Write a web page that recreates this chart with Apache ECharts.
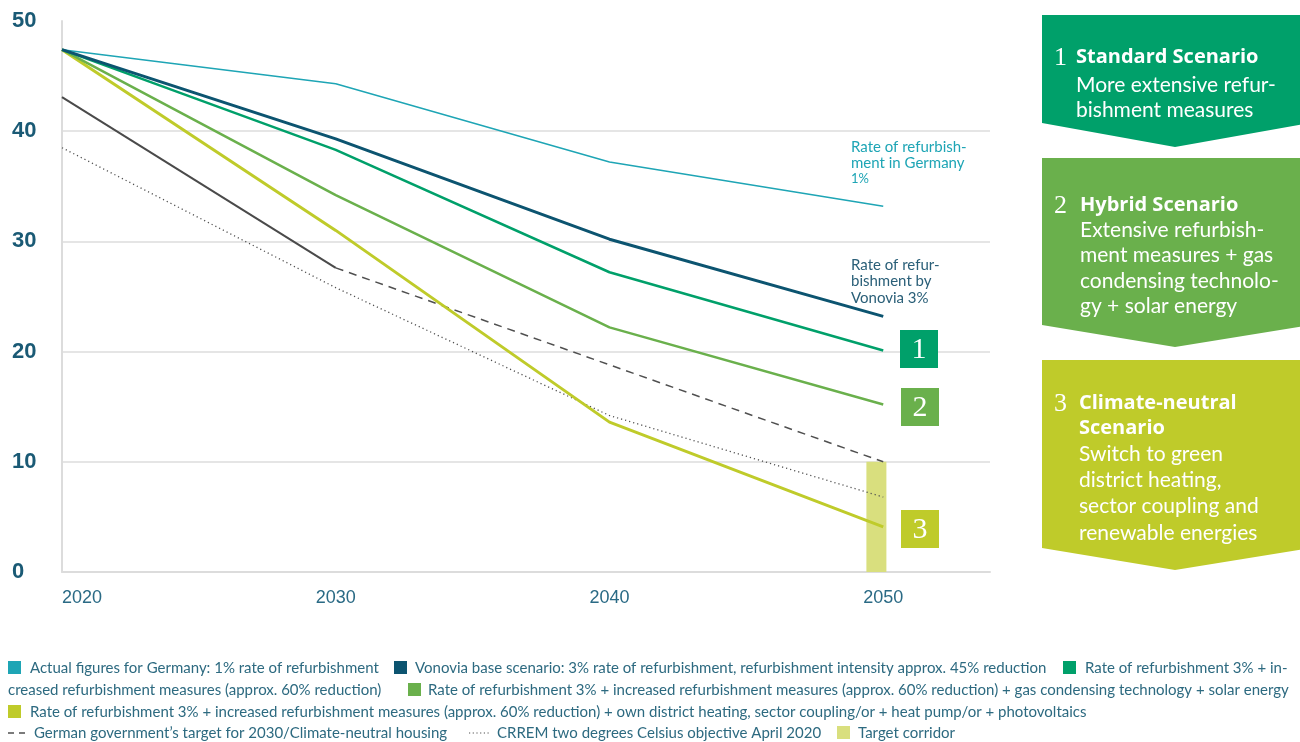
<!DOCTYPE html>
<html><head><meta charset="utf-8">
<script src="https://cdn.jsdelivr.net/npm/echarts/dist/echarts.min.js"></script>
<style>html,body{margin:0;padding:0;background:#fff}#c{width:1300px;height:742px}</style>
</head><body><div id="c"></div>
<script>
// ---- data ----
const years = [2020, 2030, 2040, 2050];
const germany1 = [47.4, 44.3, 37.2, 33.2];
const vonoviaBase = [47.4, 39.3, 30.2, 23.2];
const standard = [47.4, 38.3, 27.2, 20.1];
const hybrid = [47.4, 34.2, 22.2, 15.2];
const climateNeutral = [47.4, 31.0, 13.6, 4.1];
const govYearsSolid = [2020, 2030];
const govSolid = [43.1, 27.6];
const govYearsDashed = [2030, 2050];
const govDashed = [27.6, 10.0];
const crrem = [38.5, 25.8, 14.2, 6.8];
const corridorYears = [2049.75];
const corridorTop = [10];
const xTickLabels = [2020, 2030, 2040, 2050];

const legendTexts = {
  germany1: 'Actual figures for Germany: 1% rate of refurbishment',
  vonovia: 'Vonovia base scenario: 3% rate of refurbishment, refurbishment intensity approx. 45% reduction',
  standardA: 'Rate of refurbishment 3% + in-',
  standardB: 'creased refurbishment measures (approx. 60% reduction)',
  hybrid: 'Rate of refurbishment 3% + increased refurbishment measures (approx. 60% reduction) + gas condensing technology + solar energy',
  climate: 'Rate of refurbishment 3% + increased refurbishment measures (approx. 60% reduction) + own district heating, sector coupling/or + heat pump/or + photovoltaics',
  gov: 'German government\u2019s target for 2030/Climate-neutral housing',
  crrem: 'CRREM two degrees Celsius objective April 2020',
  corridor: 'Target corridor'
};

const C = {
  cyan: '#1ea5b5', navy: '#0c5470', green: '#00a06a', hybrid: '#6ab04c',
  yellow: '#bfcb2a', corridor: '#d9df7e', grey: '#505050', text: '#2d6a80'
};

const pairs = (xs, ys) => xs.map((x, i) => [x, ys[i]]);

function lineSeries(name, xs, ys, color, width, type) {
  return {
    name, type: 'line', data: pairs(xs, ys), symbol: 'none', z: 3,
    lineStyle: { color, width, type: type || 'solid', cap: 'butt' },
    itemStyle: { color }
  };
}

const BFONT = "'Open Sans', 'Noto Sans', sans-serif";
const FONT = "Lato, 'Open Sans', sans-serif";
const NFONT = "Lato, sans-serif";
const SERIF = "'Liberation Serif', 'DejaVu Serif', serif";

const gfx = [];
function txt(text, x, y, font, fill, align) {
  gfx.push({ type: 'text', silent: true, z: 10,
    style: { text, x, y, font, fill, textAlign: align || 'left', align: align || 'left',
      textVerticalAlign: 'middle', verticalAlign: 'middle' } });
}
function rect(x, y, w, h, fill) {
  gfx.push({ type: 'rect', silent: true, z: 9, shape: { x, y, width: w, height: h }, style: { fill } });
}

// on-chart annotations
txt('Rate of refurbish-', 851, 147, '15px ' + NFONT, C.cyan);
txt('ment in Germany', 851, 163, '15px ' + NFONT, C.cyan);
txt('1%', 851, 179, '13px ' + NFONT, C.cyan);
txt('Rate of refur-', 851, 265, '15px ' + NFONT, '#2a5f78');
txt('bishment by', 851, 281, '15px ' + NFONT, '#2a5f78');
txt('Vonovia 3%', 851, 298, '15px ' + NFONT, '#2a5f78');

// number badges
rect(900, 330, 38, 38, C.green); txt('1', 919, 350, '30px ' + SERIF, '#fff', 'center');
rect(901, 388, 38, 38, C.hybrid); txt('2', 920, 408, '30px ' + SERIF, '#fff', 'center');
rect(901, 510, 38, 38, C.yellow); txt('3', 920, 530, '30px ' + SERIF, '#fff', 'center');

// right-hand scenario boxes
function box(top, bottom, tip, fill) {
  gfx.push({ type: 'polygon', silent: true, z: 8,
    shape: { points: [[1042, top], [1310, top], [1310, bottom], [1175, tip], [1042, bottom]] },
    style: { fill } });
}
box(15, 123, 147, C.green);
box(158, 325, 347, C.hybrid);
box(360, 548, 570, C.yellow);

const B = 'bold 20px ' + BFONT, R = '21px ' + FONT;
txt('1', 1054, 58, '26px ' + SERIF, '#fff');
txt('Standard Scenario', 1076, 57, B, '#fff');
txt('More extensive refur-', 1076, 85, R, '#fff');
txt('bishment measures', 1076, 110, R, '#fff');

txt('2', 1054, 206, '26px ' + SERIF, '#fff');
txt('Hybrid Scenario', 1080, 205, B, '#fff');
['Extensive refurbish-', 'ment measures + gas', 'condensing technolo-', 'gy + solar energy']
  .forEach((t, i) => txt(t, 1080, 230 + i * 25.4, R, '#fff'));

txt('3', 1054, 404, '26px ' + SERIF, '#fff');
txt('Climate-neutral', 1079, 403, B, '#fff');
txt('Scenario', 1079, 428, B, '#fff');
['Switch to green', 'district heating,', 'sector coupling and', 'renewable energies']
  .forEach((t, i) => txt(t, 1079, 454 + i * 26.3, R, '#fff'));

// bottom legend
const LF = '15px ' + NFONT;
rect(8, 661, 13, 13, C.cyan); txt(legendTexts.germany1, 30, 668, LF, C.text);
rect(394, 661, 13, 13, C.navy); txt(legendTexts.vonovia, 415, 668, LF, C.text);
rect(1063, 661, 13, 13, C.green); txt(legendTexts.standardA, 1085, 668, LF, C.text);
txt(legendTexts.standardB, 8, 690, LF, C.text);
rect(408, 683, 13, 13, C.hybrid); txt(legendTexts.hybrid, 428, 690, LF, C.text);
rect(8, 705, 13, 13, C.yellow); txt(legendTexts.climate, 30, 712, LF, C.text);
gfx.push({ type: 'line', silent: true, z: 9, shape: { x1: 8, y1: 733, x2: 25, y2: 733 },
  style: { stroke: C.grey, lineWidth: 1.3, lineDash: [6, 5] } });
txt(legendTexts.gov, 34, 733, LF, C.text);
gfx.push({ type: 'line', silent: true, z: 9, shape: { x1: 469, y1: 733, x2: 491, y2: 733 },
  style: { stroke: C.grey, lineWidth: 1.2, lineDash: [1.2, 2.5] } });
txt(legendTexts.crrem, 497, 733, LF, C.text);
rect(837, 726, 13, 13, C.corridor); txt(legendTexts.corridor, 858, 733, LF, C.text);

const chart = echarts.init(document.getElementById('c'), null, { renderer: 'canvas' });
chart.setOption({
  animation: false,
  backgroundColor: '#fff',
  grid: { left: 62, right: 310, top: 21, bottom: 170, containLabel: false },
  xAxis: {
    type: 'value', min: 2020, max: 2053.9, interval: 10,
    axisLine: { show: true, onZero: false, lineStyle: { color: '#dcdcdc', width: 2 } },
    axisTick: { show: false }, splitLine: { show: false },
    axisLabel: {
      color: '#2a6a85', fontSize: 18, fontFamily: 'Liberation Sans', margin: 17,
      alignMinLabel: 'left',
      formatter: v => (xTickLabels.indexOf(v) >= 0 ? String(v) : '')
    }
  },
  yAxis: {
    type: 'value', min: 0, max: 50, interval: 10,
    axisLine: { show: true, lineStyle: { color: '#dcdcdc', width: 2 } },
    axisTick: { show: false },
    splitLine: { show: true, showMaxLine: false, lineStyle: { color: '#dcdcdc', width: 1.5 } },
    axisLabel: { color: '#1a5a75', fontSize: 22, fontWeight: 'bold', fontFamily: 'Liberation Sans',
      margin: 50, align: 'left' }
  },
  series: [
    { name: legendTexts.corridor, type: 'bar', data: pairs(corridorYears, corridorTop), barWidth: 20, z: 1,
      itemStyle: { color: C.corridor } },
    lineSeries(legendTexts.crrem, years, crrem, C.grey, 1.3, [1.2, 3]),
    lineSeries(legendTexts.gov, govYearsSolid, govSolid, '#4a4a4a', 2),
    lineSeries(legendTexts.gov + ' (2050)', govYearsDashed, govDashed, C.grey, 1.5, [8, 6]),
    lineSeries(legendTexts.germany1, years, germany1, C.cyan, 1.5),
    lineSeries(legendTexts.climate, years, climateNeutral, C.yellow, 3),
    lineSeries(legendTexts.hybrid, years, hybrid, C.hybrid, 2.5),
    lineSeries(legendTexts.standardA + legendTexts.standardB, years, standard, C.green, 2.5),
    lineSeries(legendTexts.vonovia, years, vonoviaBase, C.navy, 3)
  ],
  graphic: { elements: gfx }
});
</script></body></html>
